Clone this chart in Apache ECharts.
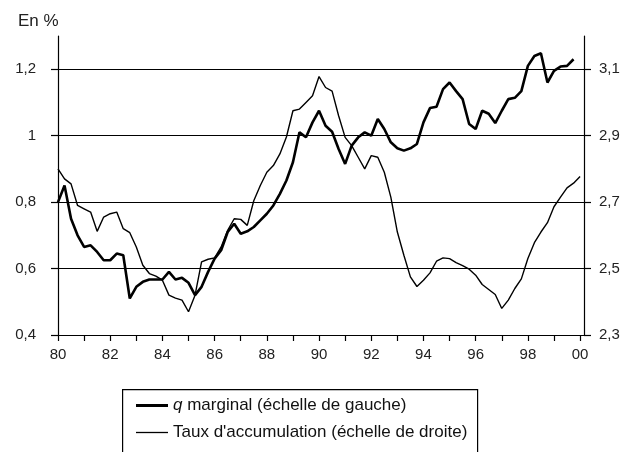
<!DOCTYPE html>
<html>
<head>
<meta charset="utf-8">
<script src="https://cdn.jsdelivr.net/npm/echarts@6/dist/echarts.min.js"></script>
<style>
  html, body { margin: 0; padding: 0; background: #fff; }
  #chart { width: 627px; height: 452px; }
</style>
</head>
<body>
<div id="chart"></div>
<script>
// donnees trimestrielles, premier point = 1980 T1
var startYear = 1980;
// q marginal (echelle de gauche), 1980 T1 -> 1999 T4
var qMarginal = [
  0.80, 0.85, 0.75, 0.70, 0.665, 0.67, 0.65, 0.625,
  0.625, 0.645, 0.64, 0.51, 0.545, 0.56, 0.567, 0.567,
  0.567, 0.59, 0.567, 0.572, 0.557, 0.52, 0.545, 0.59,
  0.63, 0.655, 0.71, 0.735, 0.705, 0.712, 0.725, 0.745,
  0.765, 0.79, 0.825, 0.865, 0.92, 1.01, 0.995, 1.04,
  1.075, 1.03, 1.012, 0.96, 0.915, 0.97, 0.995, 1.01,
  1.0, 1.05, 1.02, 0.98, 0.962, 0.955, 0.962, 0.975,
  1.04, 1.083, 1.087, 1.14, 1.16, 1.134, 1.11, 1.035,
  1.02, 1.075, 1.066, 1.038, 1.075, 1.11, 1.114, 1.134,
  1.21, 1.24, 1.248, 1.16, 1.195, 1.208, 1.21, 1.23
];
// taux d'accumulation (echelle de droite), 1980 T1 -> 2000 T1
var tauxAccumulation = [
  2.80, 2.77, 2.755, 2.69, 2.68, 2.67, 2.612, 2.655,
  2.665, 2.67, 2.62, 2.608, 2.565, 2.51, 2.485, 2.477,
  2.465, 2.42, 2.411, 2.405, 2.37, 2.42, 2.52, 2.528,
  2.532, 2.565, 2.615, 2.65, 2.648, 2.63, 2.704, 2.75,
  2.79, 2.81, 2.845, 2.896, 2.975, 2.98, 3.0, 3.02,
  3.078, 3.045, 3.034, 2.96, 2.895, 2.87, 2.835, 2.80,
  2.84, 2.835, 2.79, 2.715, 2.61, 2.54, 2.475, 2.446,
  2.465, 2.487, 2.522, 2.532, 2.53, 2.518, 2.509, 2.498,
  2.48, 2.452, 2.437, 2.422, 2.38, 2.405, 2.44, 2.469,
  2.53, 2.578, 2.61, 2.638, 2.686, 2.715, 2.743, 2.757,
  2.777
];
var seriesNames = ['q marginal (échelle de gauche)', "Taux d'accumulation (échelle de droite)"];
var leftTicks = [0.4, 0.6, 0.8, 1, 1.2];
var rightTicks = [2.3, 2.5, 2.7, 2.9, 3.1];

function toPoints(values) {
  return values.map(function (v, i) { return [startYear + i / 4, v]; });
}
function comma(v) {
  return String(Math.round(v * 10) / 10).replace('.', ',');
}

var font = 'Liberation Sans';
var chart = echarts.init(document.getElementById('chart'));
chart.setOption({
  animation: false,
  backgroundColor: '#fff',
  textStyle: { fontFamily: font },
  title: {
    text: 'En %', left: 13, top: 8,
    textStyle: { fontFamily: font, fontSize: 17, fontWeight: 'normal', color: '#222' }
  },
  grid: { left: 58, right: 43, top: 36, bottom: 117 },
  graphic: [{
    type: 'rect', left: 122, top: 389, z: 0,
    shape: { width: 355, height: 80 },
    style: { fill: '#fff', stroke: '#000', lineWidth: 1.2 }
  }],
  legend: {
    orient: 'vertical', left: 131, top: 392, z: 5,
    itemWidth: 32, itemHeight: 16, itemGap: 10,
    data: [
      { name: seriesNames[0], icon: 'path://M0,0H32V3H0Z', itemStyle: { color: '#000' } },
      { name: seriesNames[1], icon: 'path://M0,0H32V1.3H0Z', itemStyle: { color: '#000' } }
    ],
    textStyle: {
      fontFamily: font, fontSize: 17, color: '#111',
      rich: { i: { fontStyle: 'italic', fontFamily: font, fontSize: 17, color: '#111' } }
    },
    formatter: function (name) {
      return name === seriesNames[0] ? '{i|q} marginal (échelle de gauche)' : name;
    }
  },
  xAxis: {
    type: 'value', min: 1980, max: 2000.15, interval: 1,
    axisLine: { lineStyle: { color: '#000', width: 1.2 } },
    axisTick: { length: 6, lineStyle: { color: '#000', width: 1.2 } },
    splitLine: { show: false },
    axisLabel: {
      margin: 12, fontSize: 15, color: '#222', fontFamily: font,
      showMaxLabel: false,
      formatter: function (v) {
        if (Math.abs(v - Math.round(v)) > 1e-6 || Math.round(v) % 2 !== 0) return '';
        return String(Math.round(v) % 100).padStart(2, '0');
      }
    }
  },
  yAxis: [{
    type: 'value', min: leftTicks[0], max: 1.3, interval: 0.2, position: 'left',
    axisLine: { show: true, lineStyle: { color: '#000', width: 1.2 } },
    axisTick: { show: true, length: 7, lineStyle: { color: '#000', width: 1.2 } },
    splitLine: { show: true, showMaxLine: false, lineStyle: { color: '#000', width: 1.2 } },
    axisLabel: {
      margin: 22, fontSize: 15, color: '#222', fontFamily: font, showMaxLabel: false,
      formatter: function (v) { return leftTicks.some(function (t) { return Math.abs(t - v) < 1e-6; }) ? comma(v) : ''; }
    }
  }, {
    type: 'value', min: rightTicks[0], max: 3.2, interval: 0.2, position: 'right',
    axisLine: { show: true, lineStyle: { color: '#000', width: 1.2 } },
    axisTick: { show: true, length: 7, lineStyle: { color: '#000', width: 1.2 } },
    splitLine: { show: false },
    axisLabel: {
      margin: 15, fontSize: 15, color: '#222', fontFamily: font, showMaxLabel: false,
      formatter: function (v) { return rightTicks.some(function (t) { return Math.abs(t - v) < 1e-6; }) ? comma(v) : ''; }
    }
  }],
  series: [{
    name: seriesNames[0], type: 'line', yAxisIndex: 0,
    data: toPoints(qMarginal), symbol: 'none', z: 3,
    lineStyle: { color: '#000', width: 2.6 }, itemStyle: { color: '#000' }
  }, {
    name: seriesNames[1], type: 'line', yAxisIndex: 1,
    data: toPoints(tauxAccumulation), symbol: 'none', z: 2,
    lineStyle: { color: '#000', width: 1.4 }, itemStyle: { color: '#000' }
  }]
});
</script>
</body>
</html>
